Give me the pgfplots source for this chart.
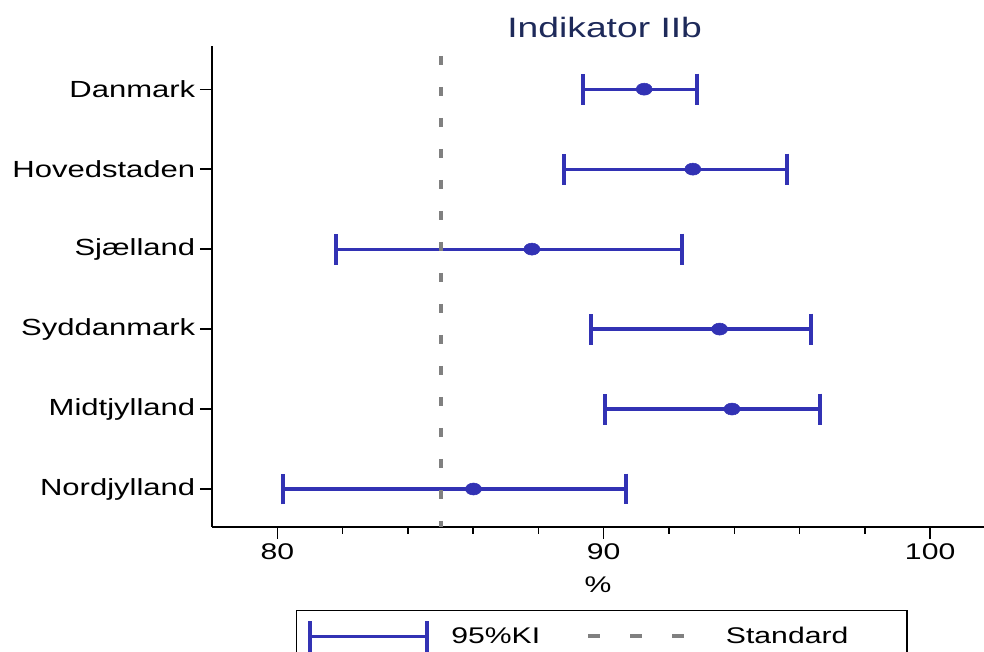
\documentclass[border=0pt]{standalone}
\usepackage{fontspec}
\setmainfont[FakeStretch=1.33]{Liberation Sans}
\usepackage{pgfplots}
\pgfplotsset{compat=1.18}
\usepackage{pgfplotstable}
\usetikzlibrary{calc}

\definecolor{kiblue}{RGB}{50,50,180}
\definecolor{stdgray}{RGB}{128,128,128}
\definecolor{titlenavy}{RGB}{30,42,90}

% y: 6 = Danmark ... 1 = Nordjylland ; est = estimate, lo/hi = 95% KI
\pgfplotstableread{
y est lo hi
6 91.24 89.38 92.87
5 92.73 88.77 95.63
4 87.80 81.81 92.40
3 93.55 89.62 96.35
2 93.93 90.05 96.64
1 86.01 80.19 90.67
}\kitable

\begin{document}
\begin{tikzpicture}
\begin{axis}[
    name=ax,
    scale only axis,
    width=579pt, height=360.75pt,
    xmin=78, xmax=101.65,
    ymin=0.525, ymax=6.54,
    axis lines*=left,
    axis line style={line width=1.5pt, black},
    tick align=outside,
    major tick length=9pt, minor tick length=5pt,
    tick style={line width=1pt, black},
    xtick={80,90,100},
    minor x tick num=4,
    ytick={1,...,6},
    yticklabels={Nordjylland,Midtjylland,Syddanmark,Sjælland,Hovedstaden,Danmark},
    ticklabel style={font=\fontsize{17}{20}\selectfont},
    yticklabel style={font=\fontsize{17.5}{20}\selectfont},
    /pgf/number format/assume math mode=true,
    title={Indikator IIb},
    title style={font=\fontsize{21}{25}\selectfont, text=titlenavy,
                 at={(rel axis cs:0.5,1)}, anchor=base, yshift=0pt, xshift=5pt},
    xlabel={\%},
    xlabel style={font=\fontsize{17}{20}\selectfont, yshift=-6pt},
    legend columns=2,
    legend style={at={(0,0)}, anchor=north west, xshift=63pt, yshift=-62.25pt,
                  draw=black, line width=1pt, inner xsep=8.75pt, inner ysep=6pt,
                  nodes={inner sep=0pt}, font=\fontsize{17}{20}\selectfont},
]
\addplot[kiblue, only marks, mark=*, mark size=4.5pt,
    mark options={xscale=1.33, fill=kiblue, draw=kiblue},
    legend image code/.code={
        \draw[kiblue, line width=2.4pt, solid] (0pt,0pt) -- (87.75pt,0pt);
        \draw[kiblue, line width=3pt, solid] (0pt,-11.6pt) -- (0pt,11.6pt)
              (87.75pt,-11.6pt) -- (87.75pt,11.6pt);},
    error bars/.cd, x dir=both, x explicit, error mark=|,
    error bar style={line width=2.4pt, kiblue},
    error mark options={line width=3pt, mark size=11.6pt, kiblue}]
    table[x=est, y=y,
          x error plus expr=\thisrow{hi}-\thisrow{est},
          x error minus expr=\thisrow{est}-\thisrow{lo}] {\kitable};
\addlegendentry{\hspace*{16.5pt}\makebox[101pt][l]{95\%KI}}
\addplot[stdgray, line width=3pt, dash pattern=on 6.75pt off 16.5pt,
    legend image code/.code={
        \draw[stdgray, line width=3pt, dash pattern=on 9pt off 22.5pt] (0pt,0pt) -- (72pt,0pt);}]
    coordinates {(85,6.415) (85,0.525)};
\addlegendentry{\hspace*{30pt}\makebox[127pt][l]{Standard}}
\end{axis}
\pgfresetboundingbox
\path[use as bounding box] ($(ax.south west)+(-159pt,-93.75pt)$) rectangle ($(ax.north east)+(0pt,34.5pt)$);
\end{tikzpicture}
\end{document}
